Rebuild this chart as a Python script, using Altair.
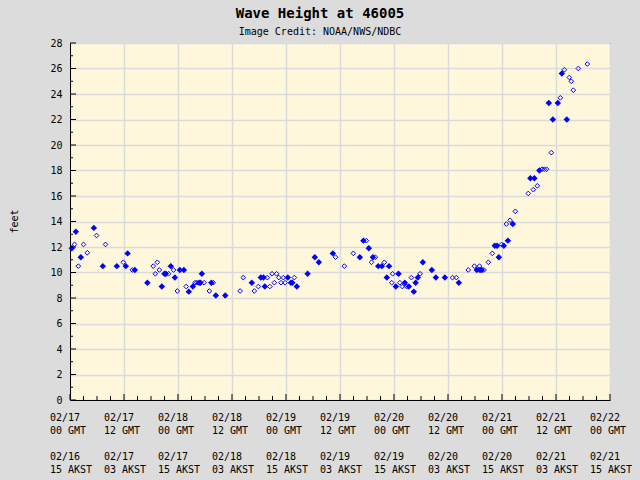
import altair as alt
import pandas as pd

# hours since 02/17 00 GMT, wave height in feet
filled_t = [0.4, 1.3, 2.4, 5.3, 7.3, 10.4, 12.4, 12.8, 14.4, 17.2, 20.4, 21.0, 21.3, 22.4, 23.3,
            24.4, 25.3, 26.4, 27.3, 28.7, 29.0, 29.3, 31.4, 32.4, 34.5, 40.4, 42.4, 43.0, 43.3, 48.4,
            49.1, 49.4, 50.4, 52.8, 54.4, 55.3, 58.4, 64.4, 65.2, 66.4, 67.3, 68.5, 69.3, 70.4, 70.9,
            72.4, 73.0, 74.4, 75.3, 76.4, 76.8, 77.3, 78.4, 80.4, 81.3, 83.3, 86.4, 90.4, 91.1, 91.5,
            94.4, 94.9, 95.3, 96.4, 97.3, 98.4, 102.3, 103.2, 104.3, 106.4, 107.3, 108.4, 109.3, 110.4]
filled_ft = [11.9, 13.2, 11.2, 13.5, 10.5, 10.5, 10.5, 11.5, 10.2, 9.2, 8.9, 9.9, 9.9, 10.5, 9.6,
             10.2, 10.2, 8.5, 8.9, 9.2, 9.2, 9.9, 9.2, 8.2, 8.2, 9.2, 9.6, 9.6, 8.9, 9.6,
             9.2, 9.2, 8.9, 9.9, 11.2, 10.8, 11.5, 11.2, 12.5, 11.9, 11.2, 10.5, 10.5, 9.6, 10.5,
             8.9, 9.9, 9.2, 8.9, 8.5, 9.2, 9.6, 10.8, 10.2, 9.6, 9.6, 9.2, 10.2, 10.2, 10.2,
             12.1, 12.1, 11.2, 12.1, 12.5, 13.8, 17.4, 17.4, 18.0, 23.3, 22.0, 23.3, 25.6, 22.0]

open_t = [1.0, 1.85, 3.0, 3.85, 5.9, 7.9, 11.85, 13.85, 18.5, 18.95, 19.4, 19.85, 21.9, 23.0, 23.85,
          25.8, 27.8, 28.2, 29.8, 30.96, 31.85, 37.8, 38.5, 40.96, 41.85, 43.85, 44.4, 44.9, 45.4, 45.9,
          46.4, 46.9, 47.4, 47.8, 49.85, 59.0, 60.96, 62.96, 65.85, 67.0, 67.85, 69.85, 71.5, 71.7, 73.3,
          73.85, 74.8, 75.85, 77.8, 85.0, 85.85, 88.5, 89.85, 91.0, 92.0, 92.96, 93.85, 95.9, 96.96, 97.8,
          98.96, 101.85, 102.96, 103.85, 104.9, 105.4, 105.9, 106.96, 108.96, 109.85, 110.96, 111.4,
          111.85, 112.96, 114.96]
open_ft = [12.2, 10.5, 12.2, 11.55, 12.9, 12.2, 10.8, 10.2, 10.5, 9.9, 10.8, 10.2, 9.9, 10.2, 8.55,
           8.9, 9.2, 9.2, 9.2, 8.55, 9.2, 8.55, 9.6, 8.55, 8.9, 9.6, 8.9, 9.9, 9.2, 9.9,
           9.6, 9.2, 9.6, 9.2, 9.6, 11.2, 10.5, 11.5, 12.5, 10.8, 11.2, 10.8, 9.2, 9.9, 9.2,
           8.9, 8.9, 9.6, 9.9, 9.6, 9.6, 10.2, 10.5, 10.5, 10.2, 10.8, 11.5, 12.2, 13.8, 14.1,
           14.8, 16.2, 16.5, 16.8, 18.1, 18.1, 18.1, 19.4, 23.7, 25.9, 25.3, 25.0, 24.3, 26.0, 26.35]

# x tick labels (every 12 h)
x_ticks = [0, 12, 24, 36, 48, 60, 72, 84, 96, 108, 120]
gmt_dates = ["02/17", "02/17", "02/18", "02/18", "02/19", "02/19", "02/20", "02/20", "02/21", "02/21", "02/22"]
gmt_hours = ["00 GMT", "12 GMT", "00 GMT", "12 GMT", "00 GMT", "12 GMT", "00 GMT", "12 GMT", "00 GMT", "12 GMT", "00 GMT"]
akst_dates = ["02/16", "02/17", "02/17", "02/18", "02/18", "02/19", "02/19", "02/20", "02/20", "02/21", "02/21"]
akst_hours = ["15 AKST", "03 AKST", "15 AKST", "03 AKST", "15 AKST", "03 AKST", "15 AKST", "03 AKST", "15 AKST", "03 AKST", "15 AKST"]
y_ticks = list(range(0, 29, 2))

FONT = "DejaVu Sans Mono"
BLUE = "#0000ff"
W, H = 540, 357
LH = 13.2

df_f = pd.DataFrame({"t": filled_t, "ft": filled_ft})
df_o = pd.DataFrame({"t": open_t, "ft": open_ft})
df_lab = pd.DataFrame({
    "v": x_ticks,
    "gmt": [d + "|" + h for d, h in zip(gmt_dates, gmt_hours)],
    "akst": [d + "|" + h for d, h in zip(akst_dates, akst_hours)],
})

xscale = alt.Scale(domain=[0, 120], nice=False, zero=False)
yscale = alt.Scale(domain=[0, 28], nice=False)

xaxis = alt.Axis(values=x_ticks, grid=True, ticks=False, labels=False, domainColor="black", title=None)
yaxis = alt.Axis(values=y_ticks, grid=True, ticks=False, domainColor="black",
                 labelPadding=8, labelOverlap=False, labelFlush=False,
                 labelFont=FONT, labelFontSize=10, labelColor="black",
                 title="feet", titleFont=FONT, titleFontSize=10, titleFontWeight="normal",
                 titleColor="black", titleAngle=-90, titleX=-56, titleY=178,
                 titleAlign="center", titleBaseline="middle")

base_f = alt.Chart(df_f).mark_point(shape="diamond", filled=True, size=42, color=BLUE, opacity=1).encode(
    x=alt.X("t:Q", scale=xscale, axis=xaxis),
    y=alt.Y("ft:Q", scale=yscale, axis=yaxis),
)
base_o = alt.Chart(df_o).mark_point(shape="diamond", filled=False, size=22, strokeWidth=1,
                                     color=BLUE, opacity=1).encode(
    x=alt.X("t:Q", scale=xscale, axis=xaxis),
    y=alt.Y("ft:Q", scale=yscale, axis=yaxis),
)

# x labels: GMT row and local-time (AKST) row
text_style = dict(align="left", baseline="top", dx=-20, lineBreak="|", lineHeight=LH,
                  font=FONT, fontSize=10, color="black")
gmt_text = alt.Chart(df_lab).mark_text(**text_style).encode(
    x=alt.X("v:Q", scale=xscale, axis=xaxis), y=alt.value(H + 13), text="gmt:N")
akst_text = alt.Chart(df_lab).mark_text(**text_style).encode(
    x=alt.X("v:Q", scale=xscale, axis=xaxis), y=alt.value(H + 52), text="akst:N")

# inward tick marks
ymaj = pd.DataFrame({"v": list(range(0, 29, 2))})
ymin = pd.DataFrame({"v": list(range(1, 28, 2))})
xmaj = pd.DataFrame({"v": list(range(0, 121, 12))})
xmin = pd.DataFrame({"v": [h for h in range(0, 121, 3) if h % 12]})

ytick_maj = alt.Chart(ymaj).mark_rule(color="black").encode(
    y=alt.Y("v:Q", scale=yscale, axis=yaxis), x=alt.value(0), x2=alt.value(6))
ytick_min = alt.Chart(ymin).mark_rule(color="black").encode(
    y=alt.Y("v:Q", scale=yscale, axis=yaxis), x=alt.value(0), x2=alt.value(3))
xtick_maj = alt.Chart(xmaj).mark_rule(color="black").encode(
    x=alt.X("v:Q", scale=xscale, axis=xaxis), y=alt.value(H), y2=alt.value(H - 6))
xtick_min = alt.Chart(xmin).mark_rule(color="black").encode(
    x=alt.X("v:Q", scale=xscale, axis=xaxis), y=alt.value(H), y2=alt.value(H - 4))

chart = alt.layer(base_o, base_f, ytick_maj, ytick_min, xtick_maj, xtick_min,
                  gmt_text, akst_text).properties(
    width=W, height=H,
    title=alt.TitleParams(text="Wave Height at 46005", subtitle="Image Credit: NOAA/NWS/NDBC",
                          font=FONT, fontSize=14, fontWeight="bold", color="black",
                          subtitleFont=FONT, subtitleFontSize=10, subtitleColor="black",
                          subtitlePadding=6, anchor="middle", dx=-20, offset=1),
    autosize=alt.AutoSizeParams(type="none"),
    padding={"left": 70, "top": 43, "right": 30, "bottom": 80},
    background="#dcdcdc",
).configure_view(
    fill="#fff7dc", stroke="black", strokeWidth=1
).configure_axis(
    gridColor="#dadada", gridWidth=1.5, domainWidth=1
)

chart.save("out.html", embed_options={"renderer": "svg", "actions": False})
